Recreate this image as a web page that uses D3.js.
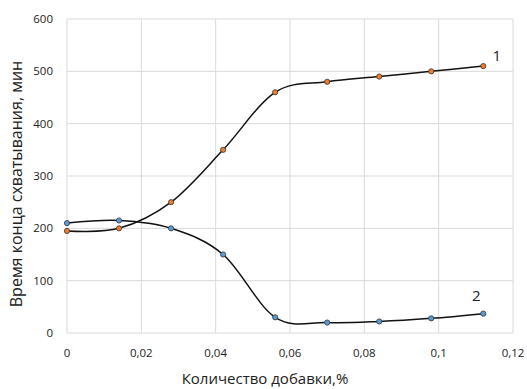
<!DOCTYPE html>
<html>
<head>
<meta charset="utf-8">
<script src="https://cdn.jsdelivr.net/npm/d3@7"></script>
<style>
  body { margin: 0; background: #fff; }
  text { font-family: "Open Sans", sans-serif; fill: #222; }
</style>
</head>
<body>
<div id="chart"></div>
<script>
// data
const xValues = [0, 0.014, 0.028, 0.042, 0.056, 0.07, 0.084, 0.098, 0.112];
const series1 = [195, 200, 250, 350, 460, 480, 490, 500, 510];
const series2 = [210, 215, 200, 150, 30, 20, 22, 28, 37];
const xTicks = [0, 0.02, 0.04, 0.06, 0.08, 0.1, 0.12];
const yTicks = [0, 100, 200, 300, 400, 500, 600];

const W = 527, H = 389,
  m = { top: 19, right: 14, bottom: 56, left: 67 },
  w = W - m.left - m.right,
  h = H - m.top - m.bottom;

const svg = d3.select("#chart")
  .append("svg")
  .attr("width", W)
  .attr("height", H);

const g = svg.append("g")
  .attr("transform", `translate(${m.left},${m.top})`);

const x = d3.scaleLinear().domain([0, 0.12]).range([0, w]);
const y = d3.scaleLinear().domain([0, 600]).range([h, 0]);

const fmt = d => d3.format("~g")(d).replace(".", ",");

// grid
g.selectAll(".vgrid")
  .data(xTicks)
  .enter()
  .append("line")
  .attr("x1", d => x(d)).attr("x2", d => x(d))
  .attr("y1", 0).attr("y2", h)
  .attr("stroke", "#d9d9d9");

g.selectAll(".hgrid")
  .data(yTicks)
  .enter()
  .append("line")
  .attr("x1", 0).attr("x2", w)
  .attr("y1", d => y(d)).attr("y2", d => y(d))
  .attr("stroke", "#d9d9d9");

// tick labels
g.selectAll(".xlab")
  .data(xTicks)
  .enter()
  .append("text")
  .attr("x", d => x(d))
  .attr("y", h + 24)
  .attr("text-anchor", "middle")
  .attr("font-size", 11.5)
  .text(fmt);

g.selectAll(".ylab")
  .data(yTicks)
  .enter()
  .append("text")
  .attr("x", -14)
  .attr("y", d => y(d) + 4)
  .attr("text-anchor", "end")
  .attr("font-size", 11.5)
  .text(d => d);

// axis titles
svg.append("text")
  .attr("x", 265)
  .attr("y", 384)
  .attr("text-anchor", "middle")
  .attr("font-size", 15)
  .text("Количество добавки,%");

svg.append("text")
  .attr("transform", `translate(22,184) rotate(-90)`)
  .attr("text-anchor", "middle")
  .attr("font-size", 16)
  .text("Время конца схватывания, мин");

// lines
const line = d3.line()
  .x((d, i) => x(xValues[i]))
  .y(d => y(d))
  .curve(d3.curveCardinal.tension(0));

const series = [
  { vals: series1, color: "#ed7d31", label: "1" },
  { vals: series2, color: "#5b9bd5", label: "2" }
];

series.forEach(s => {
  g.append("path")
    .attr("d", line(s.vals))
    .attr("fill", "none")
    .attr("stroke", "#111")
    .attr("stroke-width", 1.5);

  g.selectAll(null)
    .data(s.vals)
    .enter()
    .append("circle")
    .attr("cx", (d, i) => x(xValues[i]))
    .attr("cy", d => y(d))
    .attr("r", 2.6)
    .attr("fill", s.color)
    .attr("stroke", "#333")
    .attr("stroke-width", 0.8);
});

// curve numbers
g.append("text")
  .attr("x", x(0.1145))
  .attr("y", y(530) + 5)
  .attr("font-size", 15)
  .text("1");

g.append("text")
  .attr("x", x(0.109))
  .attr("y", y(70) + 5)
  .attr("font-size", 15)
  .text("2");
</script>
</body>
</html>
